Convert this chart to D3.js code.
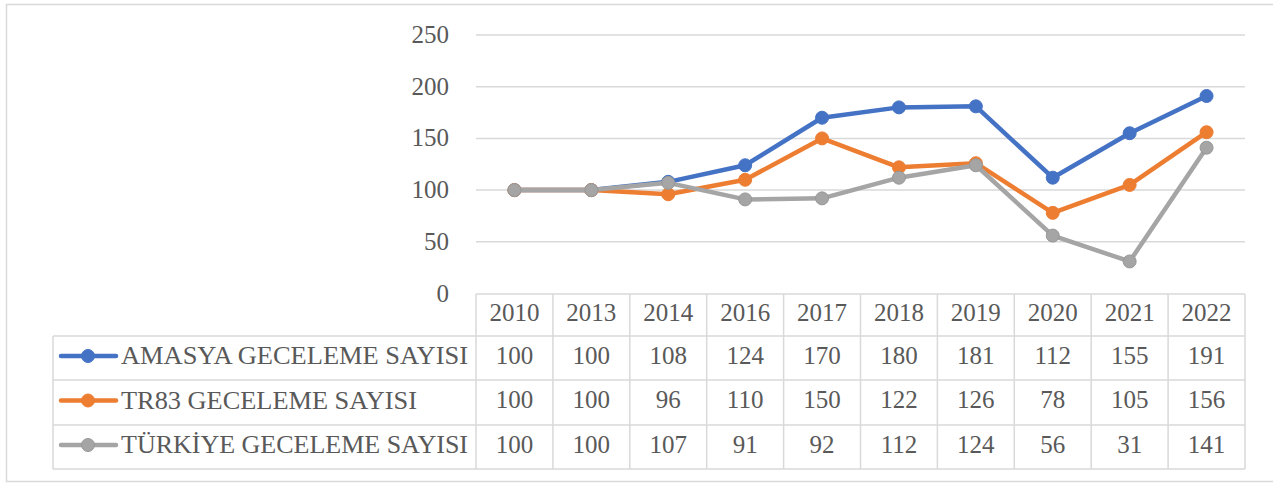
<!DOCTYPE html>
<html><head><meta charset="utf-8">
<script src="https://cdn.jsdelivr.net/npm/d3@7"></script>
<style>body{margin:0;background:#fff}svg{display:block}</style>
</head><body>
<svg id="c" width="1273" height="484"></svg>
<script>
const years = ["2010","2013","2014","2016","2017","2018","2019","2020","2021","2022"];
const amasya = [100,100,108,124,170,180,181,112,155,191];
const tr83 = [100,100,96,110,150,122,126,78,105,156];
const turkiye = [100,100,107,91,92,112,124,56,31,141];
const seriesNames = ["AMASYA GECELEME SAYISI","TR83 GECELEME SAYISI","TÜRKİYE GECELEME SAYISI"];
const yTicks = [0,50,100,150,200,250];
const colors = ["#4472C4","#ED7D31","#A5A5A5"];
const series = [amasya, tr83, turkiye];

const svg = d3.select("#c");
const font = "'Liberation Serif', 'DejaVu Serif', serif";
const txt = "#595959", gridC = "#D9D9D9";
const numSize = 25;

// outer border
svg.append("rect").attr("x",6.5).attr("y",4.5).attr("width",1272).attr("height",477)
  .attr("fill","none").attr("stroke",gridC).attr("stroke-width",1.5);

const x = d3.scaleBand().domain(years).range([476,1245]);
const y = d3.scaleLinear().domain([0,250]).range([293.5,35]);

// gridlines
svg.append("g").selectAll("line").data(yTicks.filter(d=>d>0)).join("line")
  .attr("x1",476).attr("x2",1245).attr("y1",d=>y(d)).attr("y2",d=>y(d))
  .attr("stroke",gridC).attr("stroke-width",1.5);

// y axis
const ya = svg.append("g").attr("transform","translate(449,0)")
  .call(d3.axisLeft(y).tickValues(yTicks).tickSize(0).tickPadding(0));
ya.select(".domain").remove();
ya.selectAll("text").attr("font-family",font).attr("font-size",numSize).attr("fill",txt).attr("dy","0.3em");

// table
const rowsY = [294,336,380,425,469];
const tb = svg.append("g").attr("stroke",gridC).attr("stroke-width",1.5).attr("fill","none");
tb.append("line").attr("x1",476).attr("x2",1245).attr("y1",294).attr("y2",294);
rowsY.slice(1).forEach(v=>tb.append("line").attr("x1",53).attr("x2",1245).attr("y1",v).attr("y2",v));
years.forEach(yr=>tb.append("line").attr("x1",x(yr)).attr("x2",x(yr)).attr("y1",294).attr("y2",469));
tb.append("line").attr("x1",1245).attr("x2",1245).attr("y1",294).attr("y2",469);
tb.append("line").attr("x1",53).attr("x2",53).attr("y1",336).attr("y2",469);

// header
svg.append("g").selectAll("text").data(years).join("text")
  .attr("x",d=>x(d)+x.bandwidth()/2).attr("y",(294+336)/2 - 2).attr("dy","0.33em")
  .attr("text-anchor","middle").attr("font-family",font).attr("font-size",numSize).attr("fill",txt).text(d=>d);

// rows
series.forEach((s,i)=>{
  const cy = (rowsY[i+1]+rowsY[i+2])/2;
  svg.append("g").selectAll("text").data(s).join("text")
    .attr("x",(d,j)=>x(years[j])+x.bandwidth()/2).attr("y",cy - 2.5).attr("dy","0.33em")
    .attr("text-anchor","middle").attr("font-family",font).attr("font-size",numSize).attr("fill",txt).text(d=>d);
  const lg = svg.append("g");
  lg.append("line").attr("x1",61).attr("x2",116).attr("y1",cy - 2).attr("y2",cy - 2)
    .attr("stroke",colors[i]).attr("stroke-width",4.5).attr("stroke-linecap","round");
  lg.append("circle").attr("cx",88).attr("cy",cy - 2).attr("r",6.5).attr("fill",colors[i])
    .attr("stroke", i===2 ? "#989898" : colors[i]).attr("stroke-width",1);
  lg.append("text").attr("x",121).attr("y",cy - 2.5).attr("dy","0.33em").attr("font-family",font)
    .attr("font-size",26).attr("fill",txt).attr("textLength",i===1?296:347).attr("lengthAdjust","spacingAndGlyphs")
    .text(seriesNames[i]);
});

// lines
const line = d3.line().x((d,j)=>x(years[j])+x.bandwidth()/2).y(d=>y(d));
series.forEach((s,i)=>{
  const g = svg.append("g");
  g.append("path").datum(s).attr("d",line).attr("fill","none").attr("stroke",colors[i])
    .attr("stroke-width",4.5).attr("stroke-linejoin","round");
  g.selectAll("circle").data(s).join("circle")
    .attr("cx",(d,j)=>x(years[j])+x.bandwidth()/2).attr("cy",d=>y(d)).attr("r",6.5)
    .attr("fill",colors[i]).attr("stroke", i===2 ? "#989898" : colors[i]).attr("stroke-width",1);
});
</script>
</body></html>
